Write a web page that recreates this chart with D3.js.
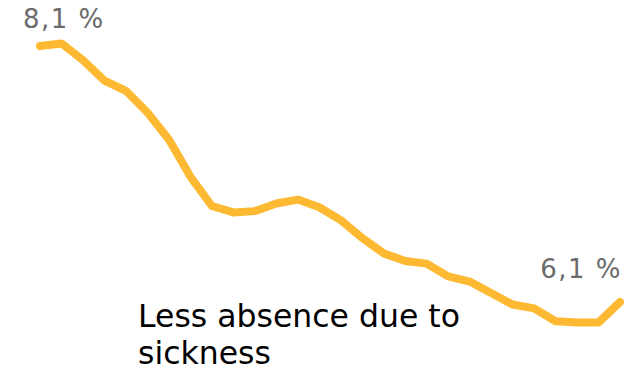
<!DOCTYPE html>
<html>
<head>
<meta charset="utf-8">
<script src="https://cdn.jsdelivr.net/npm/d3@7"></script>
<style>
  html, body { margin: 0; padding: 0; background: #fff; }
  svg { display: block; }
</style>
</head>
<body>
<svg id="chart" width="639" height="371"></svg>
<script>
// Sickness absence rate (%), one value per period
const periods = d3.range(1, 29);
const absence = [8.10, 8.12, 7.99, 7.83, 7.75, 7.58, 7.37, 7.08, 6.85, 6.80,
                 6.81, 6.87, 6.90, 6.84, 6.74, 6.60, 6.48, 6.42, 6.40, 6.30,
                 6.26, 6.17, 6.08, 6.05, 5.95, 5.94, 5.94, 6.10];
const startLabel = "8,1 %";
const endLabel = "6,1 %";
const captionLines = ["Less absence due to", "sickness"];

const svg = d3.select("#chart");

const x = d3.scaleLinear()
  .domain([periods[0], periods[periods.length - 1]])
  .range([40, 620]);

const y = d3.scaleLinear()
  .domain([6.1, 8.1])
  .range([302, 46]);

const line = d3.line()
  .x((d, i) => x(periods[i]))
  .y(d => y(d));

svg.append("path")
  .datum(absence)
  .attr("d", line)
  .attr("fill", "none")
  .attr("stroke", "#FEB933")
  .attr("stroke-width", 8)
  .attr("stroke-linejoin", "round")
  .attr("stroke-linecap", "round");

const labelFont = "'DejaVu Sans', Verdana, sans-serif";

svg.append("text")
  .attr("x", 23)
  .attr("y", y(absence[0]) - 18)
  .attr("font-family", labelFont)
  .attr("font-size", 26)
  .attr("letter-spacing", 1.5)
  .attr("fill", "#6b6b6b")
  .text(startLabel);

svg.append("text")
  .attr("x", x(periods[periods.length - 1]) + 2)
  .attr("y", y(absence[absence.length - 1]) - 24)
  .attr("text-anchor", "end")
  .attr("font-family", labelFont)
  .attr("font-size", 26)
  .attr("letter-spacing", 1.5)
  .attr("fill", "#6b6b6b")
  .text(endLabel);

svg.append("text")
  .attr("font-family", labelFont)
  .attr("font-size", 31.5)
  .attr("fill", "#000")
  .selectAll("tspan")
  .data(captionLines)
  .join("tspan")
  .attr("x", 138)
  .attr("y", (d, i) => 327 + i * 37)
  .text(d => d);
</script>
</body>
</html>
